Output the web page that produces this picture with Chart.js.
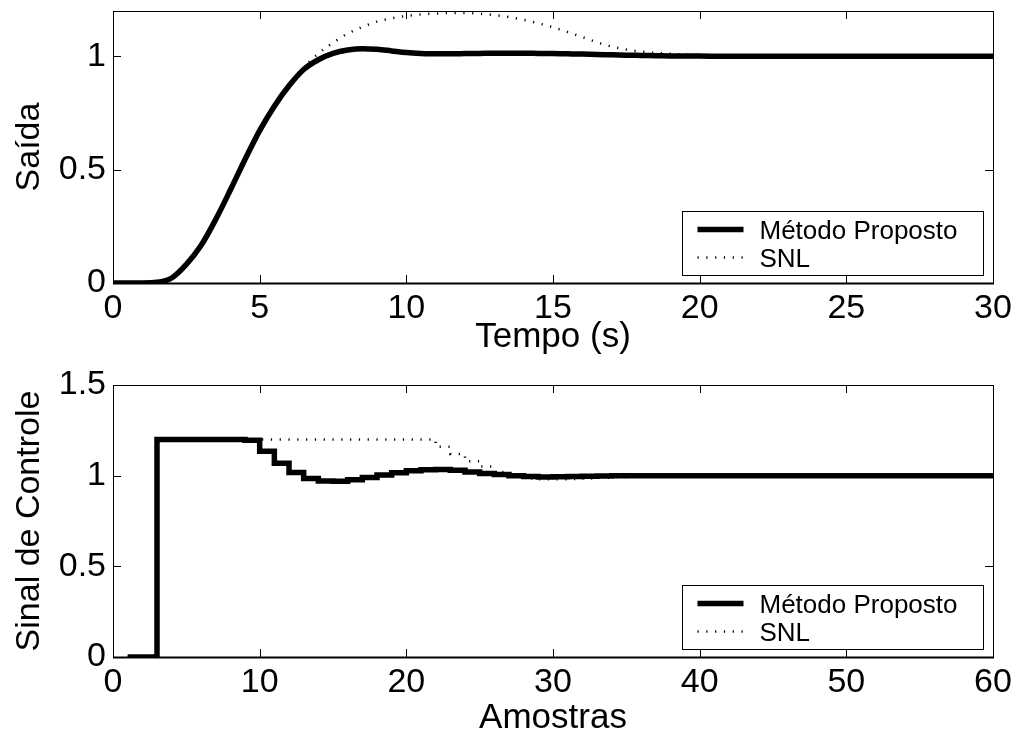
<!DOCTYPE html>
<html>
<head>
<meta charset="utf-8">
<title>Saída e Sinal de Controle</title>
<script src="https://cdn.jsdelivr.net/npm/chart.js@4.4.1/dist/chart.umd.min.js"></script>
<style>
    html, body { margin: 0; padding: 0; background: #fff; }
    #wrap { position: relative; width: 1018px; height: 736px; overflow: hidden; }
    canvas { position: absolute; left: 0; }
    #outputChart { top: 0; }
    #controlChart { top: 368px; }
</style>
</head>
<body>
<div id="wrap">
    <canvas id="outputChart" width="1018" height="368"></canvas>
    <canvas id="controlChart" width="1018" height="368"></canvas>
</div>
<script>
const FONT_FAMILY = "'Liberation Sans', Arial, Helvetica, sans-serif";

// top plot: output vs time
const timeValues = [0, 1, 1.5, 2, 2.5, 3, 3.5, 4, 4.5, 5, 5.5, 6, 6.5, 7, 7.5, 8, 8.5, 9, 9.5, 10,
    10.5, 11, 11.5, 12, 12.5, 13, 13.5, 14, 14.5, 15, 15.5, 16, 16.5, 17, 17.5, 18, 18.5, 19,
    20, 21, 22, 24, 26, 28, 30];

const outputProposed = [0, 0, 0.003, 0.022, 0.082, 0.165, 0.28, 0.41, 0.545, 0.672, 0.78, 0.87, 0.942, 0.985, 1.013, 1.028,
    1.034, 1.031, 1.024, 1.017, 1.013, 1.011, 1.011, 1.012, 1.013, 1.014, 1.014, 1.014, 1.013, 1.012, 1.011,
    1.01, 1.008, 1.007, 1.005, 1.004, 1.003, 1.002, 1.001, 1, 1, 1, 1, 1, 1];

const outputSNL = [0, 0, 0.003, 0.022, 0.082, 0.165, 0.28, 0.41, 0.545, 0.672, 0.78, 0.87, 0.95, 1.012, 1.06, 1.1,
    1.13, 1.153, 1.168, 1.178, 1.185, 1.189, 1.191, 1.191, 1.188, 1.182, 1.173, 1.161, 1.146, 1.128, 1.107,
    1.085, 1.062, 1.043, 1.03, 1.021, 1.015, 1.011, 1.006, 1.003, 1.001, 1, 1, 1, 1];

const timeTicks = [0, 5, 10, 15, 20, 25, 30];
const outputTicks = [0, 0.5, 1];

// bottom plot: control signal vs samples
const samples = [1, 2, 3, 4, 5, 6, 7, 8, 9, 10, 11, 12, 13, 14, 15, 16, 17, 18, 19, 20,
    21, 22, 23, 24, 25, 26, 27, 28, 29, 30, 31, 32, 33, 34, 35, 36, 37, 38, 39, 40,
    41, 42, 43, 44, 45, 46, 47, 48, 49, 50, 51, 52, 53, 54, 55, 56, 57, 58, 59, 60];

const controlProposed = [0, 0, 1.2, 1.2, 1.2, 1.2, 1.2, 1.2, 1.196, 1.134,
    1.068, 1.018, 0.985, 0.971, 0.969, 0.977, 0.99, 1.003, 1.016, 1.027,
    1.033, 1.034, 1.03, 1.02, 1.012, 1.006, 1, 0.995, 0.993, 0.994,
    0.995, 0.997, 0.998, 0.999, 1, 1, 1, 1, 1, 1,
    1, 1, 1, 1, 1, 1, 1, 1, 1, 1,
    1, 1, 1, 1, 1, 1, 1, 1, 1, 1];

const controlSNL = [0, 0, 1.2, 1.2, 1.2, 1.2, 1.2, 1.2, 1.2, 1.2,
    1.2, 1.2, 1.2, 1.2, 1.2, 1.2, 1.2, 1.2, 1.2, 1.2,
    1.2, 1.16, 1.12, 1.08, 1.05, 1.02, 1, 0.985, 0.98, 0.98,
    0.981, 0.984, 0.988, 0.992, 0.995, 0.997, 0.999, 1, 1, 1,
    1, 1, 1, 1, 1, 1, 1, 1, 1, 1,
    1, 1, 1, 1, 1, 1, 1, 1, 1, 1];

const sampleTicks = [0, 10, 20, 30, 40, 50, 60];
const controlTicks = [0, 0.5, 1, 1.5];

const legendLabels = ["Método Proposto", "SNL"];

const DOT_DASH = [1.2, 7.6];

function toPoints(xs, ys) {
    return xs.map((x, i) => ({ x: x, y: ys[i] }));
}

// box around the plot with ticks pointing inwards, plus legend at lower right
const matlabFrame = {
    id: "matlabFrame",
    afterDatasetsDraw(chart) {
        const { ctx, chartArea, scales } = chart;
        const { left, right, top, bottom } = chartArea;
        const tickLen = 8;

        ctx.save();
        ctx.strokeStyle = "#000";
        ctx.lineWidth = 1;
        ctx.strokeRect(left + 0.5, top + 0.5, right - left, bottom - top);

        ctx.beginPath();
        scales.x.ticks.forEach(tick => {
            const px = Math.round(scales.x.getPixelForValue(tick.value)) + 0.5;
            ctx.moveTo(px, bottom);
            ctx.lineTo(px, bottom - tickLen);
            ctx.moveTo(px, top);
            ctx.lineTo(px, top + tickLen);
        });
        scales.y.ticks.forEach(tick => {
            const py = Math.round(scales.y.getPixelForValue(tick.value)) + 0.5;
            ctx.moveTo(left, py);
            ctx.lineTo(left + tickLen, py);
            ctx.moveTo(right, py);
            ctx.lineTo(right - tickLen, py);
        });
        ctx.stroke();

        ctx.lineWidth = 2;
        ctx.beginPath();
        ctx.moveTo(left, bottom + 0.5);
        ctx.lineTo(right + 1, bottom + 0.5);
        ctx.stroke();

        // legend
        const boxW = 301;
        const boxH = 64;
        const boxX = Math.round(right - 10 - boxW) + 0.5;
        const boxY = Math.round(bottom - 8 - boxH) + 0.5;

        ctx.fillStyle = "#fff";
        ctx.fillRect(boxX, boxY, boxW, boxH);
        ctx.lineWidth = 1;
        ctx.strokeRect(boxX, boxY, boxW, boxH);

        ctx.font = `26px ${FONT_FAMILY}`;
        ctx.textAlign = "left";
        ctx.textBaseline = "alphabetic";

        chart.data.datasets.forEach((dataset, i) => {
            const rowY = boxY + 18 + i * 28;

            ctx.save();
            ctx.strokeStyle = dataset.borderColor;
            ctx.lineWidth = dataset.borderWidth;
            ctx.setLineDash(dataset.borderDash || []);
            ctx.beginPath();
            ctx.moveTo(boxX + 15, rowY);
            ctx.lineTo(boxX + 61, rowY);
            ctx.stroke();
            ctx.restore();

            ctx.fillStyle = "#000";
            ctx.fillText(dataset.label, boxX + 77, rowY + 9);
        });

        ctx.restore();
    },
};

function buildOptions(xTicks, yTicks, xMax, yMax, xTitle, yTitle, xHeight, xTitlePad, topPad) {
    return {
        responsive: false,
        animation: false,
        events: [],
        layout: {
            padding: { left: 0, top: topPad, right: 25, bottom: 0 },
        },
        plugins: {
            legend: { display: false },
            tooltip: { enabled: false },
        },
        scales: {
            x: {
                type: "linear",
                min: 0,
                max: xMax,
                grid: { display: false, drawTicks: false },
                border: { display: false },
                afterBuildTicks: scale => {
                    scale.ticks = xTicks.map(v => ({ value: v }));
                },
                afterFit: scale => {
                    scale.height = xHeight;
                    scale.paddingLeft = 0;
                    scale.paddingRight = 0;
                },
                ticks: {
                    color: "#000",
                    padding: 9,
                    maxRotation: 0,
                    autoSkip: false,
                    font: { family: FONT_FAMILY, size: 34, lineHeight: 1 },
                    callback: value => String(value),
                },
                title: {
                    display: true,
                    text: xTitle,
                    color: "#000",
                    padding: { top: 0, bottom: xTitlePad },
                    font: { family: FONT_FAMILY, size: 35, lineHeight: 1 },
                },
            },
            y: {
                min: 0,
                max: yMax,
                grid: { display: false, drawTicks: false },
                border: { display: false },
                afterBuildTicks: scale => {
                    scale.ticks = yTicks.map(v => ({ value: v }));
                },
                afterFit: scale => {
                    scale.width = 113;
                    scale.paddingTop = 0;
                    scale.paddingBottom = 0;
                },
                ticks: {
                    color: "#000",
                    padding: 7,
                    font: { family: FONT_FAMILY, size: 34, lineHeight: 1 },
                    callback: value => String(value),
                },
                title: {
                    display: true,
                    text: yTitle,
                    color: "#000",
                    padding: { top: 13, bottom: 0 },
                    font: { family: FONT_FAMILY, size: 34, lineHeight: 1 },
                },
            },
        },
    };
}

const outputChart = new Chart(document.getElementById("outputChart"), {
    type: "line",
    data: {
        datasets: [
            {
                label: legendLabels[0],
                data: toPoints(timeValues, outputProposed),
                borderColor: "#000",
                borderWidth: 5.5,
                pointRadius: 0,
                cubicInterpolationMode: "monotone",
            },
            {
                label: legendLabels[1],
                data: toPoints(timeValues, outputSNL),
                borderColor: "#000",
                borderWidth: 2.5,
                borderDash: DOT_DASH,
                pointRadius: 0,
                cubicInterpolationMode: "monotone",
            },
        ],
    },
    options: buildOptions(timeTicks, outputTicks, 30, 1.2, "Tempo (s)", "Saída", 85, 13, 11),
    plugins: [matlabFrame],
});

const controlChart = new Chart(document.getElementById("controlChart"), {
    type: "line",
    data: {
        datasets: [
            {
                label: legendLabels[0],
                data: toPoints(samples, controlProposed),
                borderColor: "#000",
                borderWidth: 5.5,
                pointRadius: 0,
                stepped: true,
            },
            {
                label: legendLabels[1],
                data: toPoints(samples, controlSNL),
                borderColor: "#000",
                borderWidth: 2.5,
                borderDash: DOT_DASH,
                pointRadius: 0,
                stepped: true,
            },
        ],
    },
    options: buildOptions(sampleTicks, controlTicks, 60, 1.5, "Amostras", "Sinal de Controle", 79, 0, 17),
    plugins: [matlabFrame],
});
</script>
</body>
</html>
